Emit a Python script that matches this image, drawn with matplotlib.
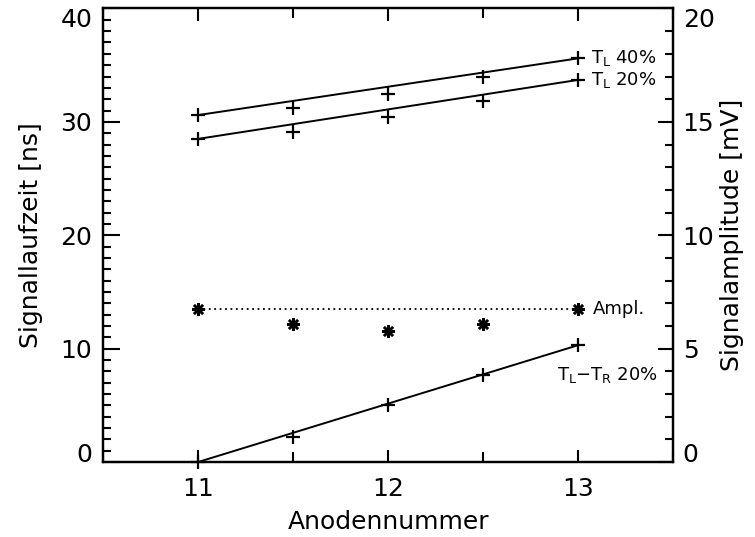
import numpy as np
import matplotlib
matplotlib.use("Agg")
import matplotlib.pyplot as plt
from matplotlib.ticker import MultipleLocator

plt.rcParams['font.family'] = ['DejaVu Sans']
plt.rcParams['mathtext.default'] = 'regular'

# anode numbers
anode = [11.0, 11.5, 12.0, 12.5, 13.0]
# signal transit times [ns]
t_left_40 = [30.6, 31.2, 32.5, 34.0, 35.6]
t_left_20 = [28.5, 29.1, 30.4, 31.8, 33.7]
t_diff_20 = [0.0, 2.2, 5.0, 7.7, 10.3]
# signal amplitude [mV]
ampl = [6.75, 6.08, 5.77, 6.08, 6.75]

fig = plt.figure(figsize=(7.55, 5.37), dpi=100)
ax = fig.add_axes([0.1368, 0.1397, 0.7546, 0.8445])
ax2 = ax.twinx()

mk = dict(marker='+', markersize=10, markeredgewidth=1.6, color='black', linestyle='none')

def ref_line(axis, x, y, **kw):
    # straight line through the first and last measurement
    axis.plot([x[0], x[-1]], [y[0], y[-1]], color='black', **kw)

for series in (t_left_40, t_left_20, t_diff_20):
    ref_line(ax, anode, series, lw=1.4)
    ax.plot(anode, series, clip_on=False, **mk)

ref_line(ax2, anode, ampl, lw=1.3, linestyle=(0, (1, 2)))
ax2.plot(anode, ampl, marker=(8, 2, 0), markersize=9, markeredgewidth=1.8,
         color='black', linestyle='none')

ax.set_xlim(10.5, 13.5)
ax.set_ylim(0, 40)
ax2.set_ylim(0, 20)

ax.set_xticks([11, 12, 13])
ax.xaxis.set_minor_locator(MultipleLocator(0.5))
ax.set_yticks([0, 10, 20, 30, 40])
ax.yaxis.set_minor_locator(MultipleLocator(1))
ax2.set_yticks([0, 5, 10, 15, 20])
ax2.yaxis.set_minor_locator(MultipleLocator(1))

ax.tick_params(axis='x', which='both', direction='in', top=True, bottom=True,
               width=1.5, labelsize=18, pad=11)
ax.tick_params(axis='x', which='major', length=9)
ax.tick_params(axis='x', which='minor', length=7)
ax.tick_params(axis='y', which='both', direction='in', right=False,
               width=1.5, labelsize=18, pad=8)
ax.tick_params(axis='y', which='major', length=12)
ax.tick_params(axis='y', which='minor', length=6)
ax2.tick_params(axis='y', which='both', direction='in', width=1.5,
                labelsize=18, pad=7)
ax2.tick_params(axis='y', which='major', length=11)
ax2.tick_params(axis='y', which='minor', length=6)

for a in (ax, ax2):
    for s in a.spines.values():
        s.set_linewidth(1.6)

# keep the outer tick labels inside the frame height
for a in (ax, ax2):
    lbls = a.get_yticklabels()
    lbls[0].set_verticalalignment('baseline')
    lbls[-1].set_verticalalignment('top')

ax.set_xlabel('Anodennummer', fontsize=18)
ax.xaxis.set_label_coords(0.5, -0.105)
ax.set_ylabel('Signallaufzeit [ns]', fontsize=18)
ax.yaxis.set_label_coords(-0.106, 0.5)
ax2.set_ylabel('Signalamplitude [mV]', fontsize=18)
ax2.yaxis.set_label_coords(1.082, 0.5)

fs = 13
ax.text(13.07, t_left_40[-1], 'T$_L$ 40%', fontsize=fs, va='center', ha='left')
ax.text(13.07, t_left_20[-1], 'T$_L$ 20%', fontsize=fs, va='center', ha='left')
ax2.text(13.08, ampl[-1], 'Ampl.', fontsize=fs, va='center', ha='left')
ax.text(13.42, t_diff_20[-1] - 2.6, 'T$_L$$-$T$_R$ 20%', fontsize=fs,
        va='center', ha='right')

fig.savefig('out.png', dpi=100)
